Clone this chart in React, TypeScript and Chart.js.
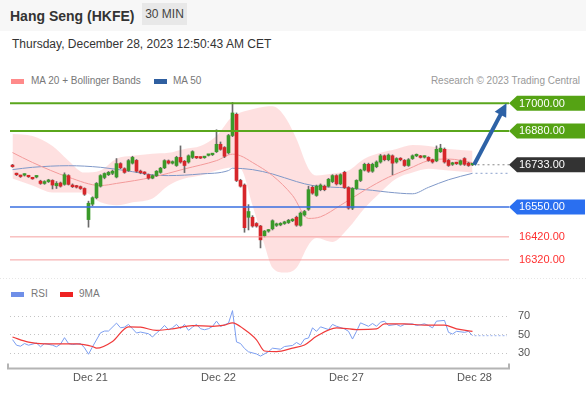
import React, { useEffect, useRef } from "react";
import { Chart, registerables } from "chart.js";

Chart.register(...registerables);

// ---------- candles (30 min) ----------
const opens = [
  16728, 16693, 16684, 16688, 16683, 16675, 16680, 16662, 16652, 16660,
  16665, 16642, 16654, 16648, 16686, 16645, 16640, 16638, 16630, 16495,
  16562, 16590, 16640, 16678, 16690, 16696, 16680, 16738, 16716, 16708,
  16740, 16752, 16705, 16699, 16690, 16675, 16686, 16700, 16720, 16750,
  16740, 16730, 16765, 16748, 16745, 16765, 16765, 16764, 16764, 16774,
  16777, 16790, 16822, 16808, 16785, 16860, 16952, 16665, 16645, 16505,
  16505, 16478, 16467, 16425, 16445, 16455, 16470, 16472, 16478, 16482,
  16490, 16505, 16470, 16515, 16540, 16635, 16600, 16625, 16640, 16640,
  16660, 16686, 16650, 16700, 16634, 16545, 16630, 16665, 16710, 16735,
  16705, 16725, 16745, 16772, 16755, 16772, 16745, 16760, 16752, 16730,
  16760, 16772, 16770, 16766, 16765, 16755, 16750, 16790, 16800, 16752,
  16735, 16740, 16735, 16760, 16740, 16733,
];
const highs = [
  16735, 16697, 16688, 16694, 16687, 16679, 16686, 16666, 16664, 16670,
  16668, 16660, 16658, 16698, 16690, 16650, 16644, 16641, 16633, 16575,
  16594, 16656, 16690, 16698, 16704, 16710, 16760, 16742, 16720, 16756,
  16770, 16756, 16710, 16703, 16693, 16690, 16708, 16722, 16755, 16754,
  16750, 16770, 16815, 16752, 16776, 16794, 16768, 16767, 16768, 16778,
  16782, 16885, 16832, 16812, 16865, 17004, 16958, 16670, 16650, 16560,
  16512, 16482, 16470, 16448, 16452, 16494, 16480, 16482, 16488, 16496,
  16499, 16510, 16528, 16535, 16640, 16642, 16645, 16650, 16645, 16674,
  16690, 16690, 16694, 16705, 16638, 16634, 16668, 16714, 16740, 16740,
  16740, 16750, 16778, 16776, 16780, 16776, 16764, 16764, 16756, 16760,
  16776, 16780, 16774, 16772, 16768, 16758, 16815, 16822, 16806, 16756,
  16744, 16744, 16754, 16764, 16744, 16737,
];
const lows = [
  16722, 16686, 16678, 16684, 16678, 16670, 16676, 16648, 16648, 16656,
  16628, 16630, 16636, 16644, 16645, 16634, 16632, 16626, 16600, 16462,
  16555, 16585, 16636, 16672, 16686, 16690, 16676, 16716, 16696, 16704,
  16736, 16700, 16694, 16690, 16670, 16672, 16682, 16696, 16716, 16736,
  16736, 16726, 16740, 16699, 16740, 16760, 16760, 16760, 16761, 16771,
  16773, 16786, 16796, 16764, 16780, 16855, 16660, 16636, 16440, 16450,
  16462, 16462, 16372, 16420, 16440, 16450, 16465, 16468, 16474, 16478,
  16486, 16466, 16466, 16510, 16535, 16605, 16596, 16620, 16620, 16636,
  16655, 16645, 16646, 16630, 16540, 16538, 16626, 16660, 16706, 16700,
  16700, 16720, 16740, 16750, 16750, 16690, 16740, 16750, 16726, 16726,
  16756, 16768, 16762, 16762, 16748, 16740, 16746, 16786, 16740, 16726,
  16730, 16734, 16731, 16730, 16726, 16729,
];
const closes = [
  16725, 16690, 16682, 16691, 16681, 16672, 16684, 16652, 16660, 16667,
  16645, 16652, 16640, 16690, 16648, 16638, 16636, 16630, 16605, 16566,
  16590, 16652, 16686, 16695, 16700, 16705, 16738, 16720, 16700, 16751,
  16765, 16705, 16699, 16695, 16675, 16686, 16705, 16718, 16751, 16740,
  16745, 16765, 16745, 16730, 16772, 16790, 16763, 16762, 16766, 16776,
  16779, 16822, 16800, 16770, 16860, 16958, 16665, 16640, 16460, 16530,
  16467, 16467, 16407, 16445, 16450, 16490, 16475, 16478, 16485, 16492,
  16495, 16471, 16523, 16530, 16625, 16610, 16640, 16645, 16625, 16670,
  16686, 16650, 16690, 16634, 16545, 16630, 16665, 16710, 16735, 16705,
  16735, 16745, 16772, 16755, 16775, 16740, 16760, 16755, 16730, 16755,
  16772, 16776, 16765, 16768, 16752, 16745, 16800, 16805, 16745, 16730,
  16740, 16738, 16750, 16735, 16730, 16733,
];

// ---------- Bollinger bands (MA 20) ----------
const bandIdx = [0, 5, 10, 14, 18, 22, 26, 30, 35, 39, 43, 47, 51, 55, 57, 60, 63, 65, 68, 71, 74, 76, 80, 84, 88, 92, 96, 100, 104, 109, 115];
const bandUpper = [16867, 16858, 16815, 16751, 16699, 16708, 16759, 16772, 16781, 16785, 16802, 16815, 16858, 16944, 16960, 16974, 16985, 16987, 16944, 16845, 16716, 16686, 16695, 16708, 16759, 16785, 16802, 16819, 16815, 16802, 16794];
const bandLower = [16673, 16643, 16613, 16613, 16613, 16570, 16557, 16570, 16587, 16643, 16673, 16686, 16708, 16721, 16716, 16557, 16385, 16286, 16265, 16286, 16385, 16415, 16398, 16458, 16544, 16613, 16673, 16699, 16716, 16708, 16699];

// ---------- moving averages ----------
const ma20Idx = [0, 5, 14, 22, 26, 35, 43, 51, 55, 57, 60, 65, 70, 74, 77, 82, 88, 94, 99, 104, 109, 115];
const ma20Vals = [16786, 16743, 16679, 16643, 16652, 16679, 16715, 16751, 16779, 16772, 16743, 16686, 16600, 16500, 16507, 16557, 16622, 16679, 16715, 16751, 16758, 16742];
const ma50Idx = [0, 5, 14, 22, 30, 35, 39, 47, 54, 55, 60, 65, 71, 75, 84, 90, 94, 100, 104, 109, 115];
const ma50Vals = [16712, 16722, 16729, 16722, 16703, 16689, 16686, 16693, 16708, 16718, 16712, 16693, 16660, 16643, 16632, 16622, 16614, 16607, 16635, 16668, 16696];

// ---------- RSI ----------
const rsiIdx = [0, 1, 2, 3, 4, 6, 7, 8, 10, 11, 12, 13, 14, 15, 17, 18, 19, 20, 22, 23, 24, 26, 27, 28, 29, 30, 31, 32, 34, 35, 36, 37, 38, 39, 40, 41, 42, 43, 44, 45, 46, 47, 48, 49, 50, 51, 52, 54, 55, 56, 57, 58, 59, 61, 62, 64, 65, 67, 68, 70, 71, 72, 73, 74, 75, 76, 77, 79, 80, 81, 83, 84, 85, 86, 87, 89, 90, 91, 92, 93, 94, 96, 97, 98, 100, 101, 103, 104, 105, 106, 108, 109, 110, 111, 113, 114, 115];
const rsiVals = [44.7, 38.7, 37.6, 40.5, 38.7, 41, 37, 40.5, 38.7, 37, 39.8, 46.8, 40.5, 39.4, 40.5, 35.9, 29, 37, 52, 53.9, 53.9, 62.4, 57.4, 58.1, 61, 56.4, 51.8, 52.8, 51, 47.5, 51.8, 55.3, 59.9, 55.3, 57.4, 61, 56.4, 61, 54.6, 58.1, 61, 56.4, 55.3, 56.4, 58.8, 64.5, 58.8, 62.4, 75.8, 42.2, 40.5, 35.2, 31.6, 29.3, 27, 31.8, 35.5, 34.4, 37.3, 38.4, 41.6, 39, 45.3, 46.4, 57.3, 53.6, 58.4, 55.5, 61, 59, 56.2, 53.6, 45.3, 53.6, 62.7, 59, 62, 59, 63.4, 64.5, 59.8, 61, 59, 61, 61.6, 59.8, 61.6, 59.8, 57.3, 64.5, 65.3, 52.5, 50.7, 53.6, 52.5, 53.6, 48.9];
const rsiMaIdx = [0, 4, 8, 16, 20, 21, 25, 29, 32, 36, 40, 45, 50, 53, 55, 58, 61, 63, 66, 70, 73, 76, 81, 86, 91, 93, 98, 103, 108, 111, 115];
const rsiMaVals = [47.5, 42, 40.2, 40.2, 37.3, 35.5, 42.7, 58.4, 58, 54.7, 56.2, 59.8, 59, 60.2, 62.7, 55.5, 44.5, 32.5, 31.8, 35.5, 39, 48.2, 57.3, 55.5, 56.2, 61.6, 61.6, 60.2, 60.2, 56.2, 53.6];

// ---------- levels / ticks ----------
const levels = [17000, 16880, 16733, 16550, 16420, 16320];
const levelKinds = ["res", "res", "last", "sup", "sup2", "sup2"];
const arrowTarget = 17000;
const arrowEndIdx = 123.5;
const tickPos = [19.5, 51.5, 83.5, 115.5];
const tickLabels = ["Dec 21", "Dec 22", "Dec 27", "Dec 28"];
const rsiTicks = [30, 50, 70];

const X_MIN = -0.625;
const X_MAX = 124.375;
const PRICE_MIN = 16224;
const PRICE_MAX = 17049;
const RSI_MIN = 13.7;
const RSI_MAX = 87.2;

const FONT = '"Liberation Sans", Arial, Helvetica, sans-serif';
const GREEN = "#3a9a2a";
const RED = "#d6262a";

function pts(idx: number[], vals: number[]) {
  return idx.map((x, k) => ({ x, y: vals[k] }));
}

const mainOverlay = {
  id: "mainOverlay",
  afterDatasetsDraw(chart: any) {
    const { ctx, chartArea, scales } = chart;
    const xs = scales.x;
    const ys = scales.y;
    const L = chartArea.left;
    const R = chartArea.right;
    const li = closes.length - 1;
    ctx.save();

    // faint separator at the bottom
    ctx.setLineDash([1, 2]);
    ctx.strokeStyle = "#e6e6e6";
    ctx.lineWidth = 1;
    ctx.beginPath();
    ctx.moveTo(0, chartArea.bottom - 3.5);
    ctx.lineTo(586, chartArea.bottom - 3.5);
    ctx.stroke();

    // level lines
    levels.forEach((v, k) => {
      const kind = levelKinds[k];
      const py = ys.getPixelForValue(v);
      ctx.setLineDash([]);
      ctx.beginPath();
      if (kind === "res") {
        ctx.strokeStyle = "#5aa61c";
        ctx.lineWidth = 2;
        ctx.moveTo(L, py);
        ctx.lineTo(R - 1, py);
      } else if (kind === "sup") {
        ctx.strokeStyle = "#3a6fe0";
        ctx.lineWidth = 1.5;
        ctx.moveTo(L, py);
        ctx.lineTo(R - 1, py);
      } else if (kind === "sup2") {
        ctx.strokeStyle = "#f5a0a0";
        ctx.lineWidth = 1;
        ctx.moveTo(L, py);
        ctx.lineTo(R - 1, py);
      } else {
        ctx.setLineDash([2, 3]);
        ctx.strokeStyle = "#888";
        ctx.lineWidth = 1;
        ctx.moveTo(xs.getPixelForValue(li) + 5, py);
        ctx.lineTo(R - 1, py);
      }
      ctx.stroke();
    });

    // MA50 extension (dotted)
    const mv = ys.getPixelForValue(ma50Vals[ma50Vals.length - 1]);
    ctx.setLineDash([2, 3]);
    ctx.strokeStyle = "#8aa0cc";
    ctx.lineWidth = 1;
    ctx.beginPath();
    ctx.moveTo(xs.getPixelForValue(li) + 3, mv);
    ctx.lineTo(R - 1, mv);
    ctx.stroke();
    ctx.setLineDash([]);

    // forecast arrow
    const x0 = xs.getPixelForValue(li + 0.4);
    const y0 = ys.getPixelForValue(closes[li]);
    const x1 = xs.getPixelForValue(arrowEndIdx);
    const y1 = ys.getPixelForValue(arrowTarget);
    const ang = Math.atan2(y1 - y0, x1 - x0);
    const head = 13;
    const hw = 6.5;
    const bx = x1 - head * Math.cos(ang);
    const by = y1 - head * Math.sin(ang);
    ctx.strokeStyle = "#2d62a6";
    ctx.fillStyle = "#2d62a6";
    ctx.lineWidth = 4;
    ctx.beginPath();
    ctx.moveTo(x0, y0);
    ctx.lineTo(bx + Math.cos(ang), by + Math.sin(ang));
    ctx.stroke();
    ctx.beginPath();
    ctx.moveTo(x1, y1);
    ctx.lineTo(bx + hw * Math.sin(ang), by - hw * Math.cos(ang));
    ctx.lineTo(bx - hw * Math.sin(ang), by + hw * Math.cos(ang));
    ctx.closePath();
    ctx.fill();

    // labels
    ctx.font = "11px " + FONT;
    ctx.textBaseline = "middle";
    ctx.textAlign = "left";
    levels.forEach((v, k) => {
      const kind = levelKinds[k];
      const py = ys.getPixelForValue(v);
      const txt = v.toFixed(2);
      if (kind === "sup2") {
        ctx.fillStyle = "#ff3030";
        ctx.fillText(txt, R + 9, py + 0.5);
        return;
      }
      ctx.fillStyle = kind === "res" ? "#55a314" : kind === "sup" ? "#2a6ff0" : "#333333";
      ctx.beginPath();
      ctx.moveTo(R - 1, py);
      ctx.lineTo(R + 7, py - 7.5);
      ctx.lineTo(585, py - 7.5);
      ctx.lineTo(585, py + 7.5);
      ctx.lineTo(R + 7, py + 7.5);
      ctx.closePath();
      ctx.fill();
      ctx.fillStyle = "#ffffff";
      ctx.fillText(txt, R + 9, py + 0.5);
    });
    ctx.restore();
  },
};

const rsiOverlay = {
  id: "rsiOverlay",
  afterDraw(chart: any) {
    const { ctx, chartArea, scales } = chart;
    const xs = scales.x;
    const ys = scales.y;
    ctx.save();
    const lx = xs.getPixelForValue(rsiIdx[rsiIdx.length - 1]);
    const ly = ys.getPixelForValue(rsiVals[rsiVals.length - 1]);
    ctx.setLineDash([2, 2]);
    ctx.strokeStyle = "#9ab2f0";
    ctx.lineWidth = 1;
    ctx.beginPath();
    ctx.moveTo(lx + 2, ly);
    ctx.lineTo(chartArea.right - 3, ly);
    ctx.stroke();

    ctx.setLineDash([]);
    ctx.strokeStyle = "#b4b4b4";
    ctx.lineWidth = 2;
    const by = chartArea.bottom;
    ctx.beginPath();
    ctx.moveTo(chartArea.left - 2, by - 5);
    ctx.lineTo(chartArea.left - 2, by);
    ctx.lineTo(chartArea.right - 1, by);
    ctx.lineTo(chartArea.right - 1, by - 5);
    ctx.stroke();
    ctx.restore();
  },
};

export default function App() {
  const mainRef = useRef<HTMLCanvasElement>(null);
  const rsiRef = useRef<HTMLCanvasElement>(null);

  useEffect(() => {
    if (!mainRef.current || !rsiRef.current) return;
    const main = new Chart(mainRef.current, {
      type: "bar",
      data: {
        datasets: [
          {
            type: "line",
            label: "upper",
            data: pts(bandIdx, bandUpper),
            borderWidth: 0,
            borderColor: "rgba(0,0,0,0)",
            pointRadius: 0,
            fill: false,
            cubicInterpolationMode: "monotone",
            order: 10,
          } as any,
          {
            type: "line",
            label: "lower",
            data: pts(bandIdx, bandLower),
            borderWidth: 0,
            borderColor: "rgba(0,0,0,0)",
            backgroundColor: "rgba(250,130,130,0.25)",
            pointRadius: 0,
            fill: "-1",
            cubicInterpolationMode: "monotone",
            order: 9,
          } as any,
          {
            type: "line",
            label: "MA 50",
            data: pts(ma50Idx, ma50Vals),
            borderColor: "#7f98c8",
            borderWidth: 1,
            pointRadius: 0,
            cubicInterpolationMode: "monotone",
            order: 4,
          } as any,
          {
            type: "line",
            label: "MA 20",
            data: pts(ma20Idx, ma20Vals),
            borderColor: "#f39a9a",
            borderWidth: 1,
            pointRadius: 0,
            cubicInterpolationMode: "monotone",
            order: 3,
          } as any,
          {
            type: "bar",
            label: "wick",
            data: closes.map((c, i) => ({ x: i, y: [lows[i], highs[i]] })),
            backgroundColor: "#6a6a6a",
            barThickness: 1,
            grouped: false,
            order: 2,
          } as any,
          {
            type: "bar",
            label: "body",
            data: closes.map((c, i) => ({ x: i, y: [opens[i], c] })),
            backgroundColor: closes.map((c, i) => (c >= opens[i] ? GREEN : RED)),
            barThickness: 3,
            minBarLength: 1.5,
            grouped: false,
            order: 1,
          } as any,
        ],
      },
      options: {
        responsive: false,
        animation: false,
        devicePixelRatio: 1,
        layout: { padding: { left: 10, right: 76, top: 0, bottom: 0 } },
        plugins: { legend: { display: false }, tooltip: { enabled: false } },
        scales: {
          x: { type: "linear", min: X_MIN, max: X_MAX, display: false, offset: false },
          y: { type: "linear", min: PRICE_MIN, max: PRICE_MAX, display: false },
        },
      } as any,
      plugins: [mainOverlay],
    });

    const rsi = new Chart(rsiRef.current, {
      type: "line",
      data: {
        datasets: [
          {
            label: "9MA",
            data: pts(rsiMaIdx, rsiMaVals),
            borderColor: "#f03a3a",
            borderWidth: 1.2,
            pointRadius: 0,
            cubicInterpolationMode: "monotone",
          },
          {
            label: "RSI",
            data: pts(rsiIdx, rsiVals),
            borderColor: "#7c9ef0",
            borderWidth: 1,
            pointRadius: 0,
            tension: 0,
          },
        ],
      },
      options: {
        responsive: false,
        animation: false,
        devicePixelRatio: 1,
        layout: { padding: { left: 10, right: 0, top: 15, bottom: 4.5 } },
        plugins: { legend: { display: false }, tooltip: { enabled: false } },
        scales: {
          x: {
            type: "linear",
            min: X_MIN,
            max: X_MAX,
            offset: false,
            grid: { display: false, drawTicks: false },
            border: { display: false },
            ticks: {
              autoSkip: false,
              maxRotation: 0,
              padding: 3,
              color: "#555",
              font: { family: FONT, size: 11 },
              callback: (_v: any, i: number) => tickLabels[i],
            },
            afterBuildTicks: (s: any) => {
              s.ticks = tickPos.map((v) => ({ value: v }));
            },
            afterFit: (s: any) => {
              s.height = 20;
            },
          },
          y: {
            type: "linear",
            position: "right",
            min: RSI_MIN,
            max: RSI_MAX,
            grid: { color: "#c4c4c4", drawTicks: false, lineWidth: 1 },
            border: { display: false, dash: [1, 3] },
            ticks: {
              padding: 8,
              color: "#555",
              font: { family: FONT, size: 11 },
              callback: (v: any) => String(v),
            },
            afterBuildTicks: (s: any) => {
              s.ticks = rsiTicks.map((v) => ({ value: v }));
            },
            afterFit: (s: any) => {
              s.width = 76;
            },
          },
        },
      } as any,
      plugins: [rsiOverlay],
    });

    return () => {
      main.destroy();
      rsi.destroy();
    };
  }, []);

  const legendText: React.CSSProperties = {
    position: "absolute",
    fontSize: 10,
    lineHeight: "12px",
    color: "#777",
    whiteSpace: "nowrap",
  };
  const sw = (left: number, top: number, color: string): React.CSSProperties => ({
    position: "absolute",
    left,
    top,
    width: 13,
    height: 5,
    background: color,
  });

  return (
    <div
      style={{
        position: "fixed",
        left: 0,
        top: 0,
        width: 586,
        height: 393,
        background: "#ffffff",
        fontFamily: FONT,
        overflow: "hidden",
      }}
    >
      <div style={{ position: "absolute", left: 0, top: 0, width: 586, height: 31, background: "#f7f7f7" }} />
      <div
        style={{
          position: "absolute",
          left: 10,
          top: 8,
          fontSize: 14,
          lineHeight: "16px",
          fontWeight: "bold",
          color: "#333",
          whiteSpace: "nowrap",
        }}
      >
        Hang Seng (HKFE)
      </div>
      <div
        style={{
          position: "absolute",
          left: 142,
          top: 3,
          width: 45,
          height: 22,
          background: "#e8e8e8",
          color: "#444",
          fontSize: 12,
          lineHeight: "22px",
          textAlign: "center",
          whiteSpace: "nowrap",
        }}
      >
        30 MIN
      </div>
      <div
        style={{
          position: "absolute",
          left: 12,
          top: 37,
          fontSize: 12,
          lineHeight: "14px",
          color: "#333",
          whiteSpace: "nowrap",
        }}
      >
        Thursday, December 28, 2023 12:50:43 AM CET
      </div>

      <div style={sw(11, 79, "#ff8a8a")} />
      <div style={{ ...legendText, left: 31, top: 75 }}>MA 20 + Bollinger Bands</div>
      <div style={sw(154, 79, "#2f5fa0")} />
      <div style={{ ...legendText, left: 173, top: 75 }}>MA 50</div>
      <div style={{ ...legendText, right: 6, top: 75, color: "#999" }}>Research © 2023 Trading Central</div>

      <canvas
        ref={mainRef}
        width={586}
        height={190}
        style={{ position: "absolute", left: 0, top: 92, width: 586, height: 190 }}
      />

      <div style={sw(11, 292, "#6f8fe8")} />
      <div style={{ ...legendText, left: 31, top: 288 }}>RSI</div>
      <div style={sw(60, 292, "#ee2222")} />
      <div style={{ ...legendText, left: 79, top: 288 }}>9MA</div>

      <canvas
        ref={rsiRef}
        width={586}
        height={108}
        style={{ position: "absolute", left: 0, top: 285, width: 586, height: 108 }}
      />
    </div>
  );
}
